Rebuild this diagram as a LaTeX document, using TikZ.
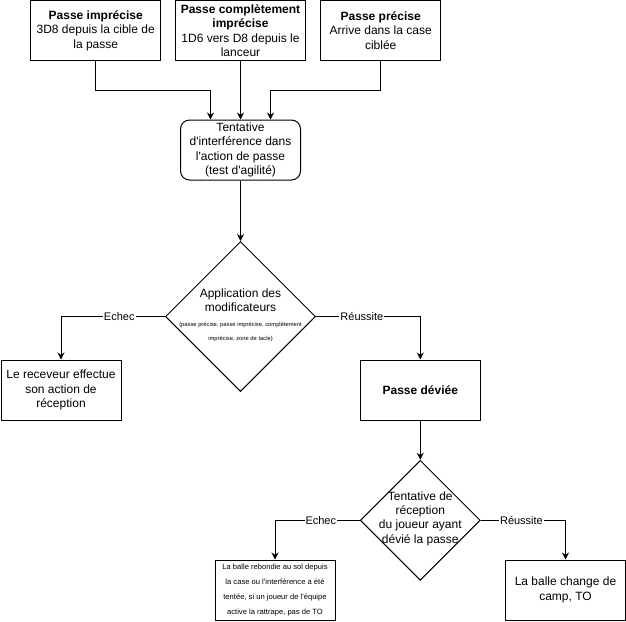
\documentclass[tikz,border=0pt]{standalone}
\usepackage{fontspec}
\setmainfont{Liberation Sans}[Ligatures=TeXOff]
\usepackage{tikz}
\usetikzlibrary{arrows.meta,positioning,shapes.geometric}
\tikzset{
  % box with a thin black stroke, drawn the way the flow chart does it
  boite/.style   = {rectangle, draw=black, line width=1pt, minimum width=#1, minimum height=60pt,
                    inner sep=1pt, align=center, font=\fontsize{12}{14.4}\selectfont},
  boite/.default = 120pt,
  arrondi/.style = {boite, rounded corners=9pt},
  losange/.style = {diamond, draw=black, line width=1pt, inner sep=0pt,
                    minimum width=#1, minimum height=#1},
  texte/.style   = {align=center, inner sep=0pt, font=\fontsize{12}{14.4}\selectfont},
  petit/.style   = {align=center, inner sep=0pt, font=\fontsize{5.8}{14}\selectfont},
  mini/.style    = {align=center, inner sep=0pt, font=\fontsize{7.6}{15}\selectfont},
  fleche/.style  = {-{Stealth[length=7pt,width=7pt]}, line width=1pt},
  etiq/.style    = {font=\fontsize{11}{13}\selectfont, fill=white, inner sep=1pt},
}

\begin{document}
\begin{tikzpicture}[x=1pt,y=-1pt]
\useasboundingbox (0,0) rectangle (626,621);
% types de passe
\node[boite=130pt] (imp) at (95.7,30.5)
  {\textbf{Passe imprécise}\\3D8 depuis la cible de\\la passe};
\node[boite=130pt] (comp) at (240.5,30.5)
  {\textbf{Passe complètement}\\\textbf{imprécise}\\1D6 vers D8 depuis le\\lanceur};
\node[boite] (prec) at (380.7,30.5)
  {\textbf{Passe précise}\\Arrive dans la case\\ciblée};
% interference
\node[arrondi] (tent) at (240.5,150)
  {Tentative\\d'interférence dans\\l'action de passe\\(test d'agilité)};
% modificateurs
\node[losange=150pt] (app) at (240.5,316.5) {};
\node[texte] (apptitre) at (240.5,300.5) {Application des\\modificateurs};
\node[petit] (appnote) at (240.5,331.5)
  {(passe précise, passe imprécise, complètement\\imprécise, zone de tacle)};
\node[boite] (recv) at (61,390) {Le receveur effectue\\son action de\\réception};
\node[boite] (devie) at (420.3,390) {\textbf{Passe déviée}};
% reception
\node[losange=120pt] (recep) at (420.3,520.3) {};
\node[texte] (receptxt) at (420.3,518.5)
  {Tentative de\\réception\\du joueur ayant\\dévié la passe};
\node[boite] (rebond) at (275,590) {};
\node[mini] (rebondtxt) at (275,590)
  {La balle rebondie au sol depuis\\la case ou l'interférence a été\\tentée, si un joueur de l'équipe\\active la rattrape, pas de TO};
\node[boite] (camp) at (565.5,590) {La balle change de\\camp, TO};
% liens
\draw[fleche] (imp.south) -- ++(0,29.3) -| ([xshift=-30pt]tent.north);
\draw[fleche] (comp.south) -- (tent.north);
\draw[fleche] (prec.south) -- ++(0,29.3) -| ([xshift=30pt]tent.north);
\draw[fleche] (tent.south) -- (app.north);
\draw[fleche] (app.west) -| node[etiq, pos=0.22] {Echec} (recv.north);
\draw[fleche] (app.east) -| node[etiq, pos=0.22] {Réussite} (devie.north);
\draw[fleche] (devie.south) -- (recep.north);
\draw[fleche] (recep.west) -| node[etiq, pos=0.23] {Echec} (rebond.north);
\draw[fleche] (recep.east) -| node[etiq, pos=0.24] {Réussite} (camp.north);
\end{tikzpicture}
\end{document}
